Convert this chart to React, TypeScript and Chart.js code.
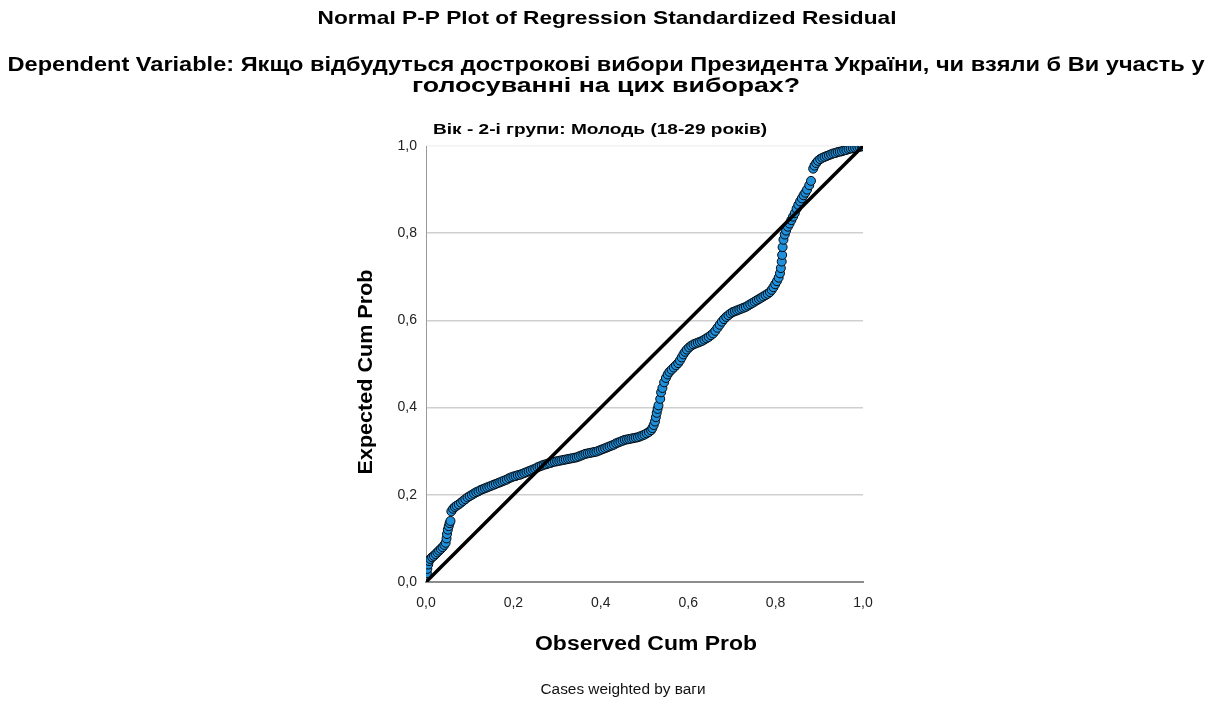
import React, { useEffect, useRef } from "react";
import { Chart, registerables } from "chart.js";

Chart.register(...registerables);

const mainTitle = "Normal P-P Plot of Regression Standardized Residual";
const depLine1 = "Dependent Variable: Якщо відбудуться дострокові вибори Президента України, чи взяли б Ви участь у";
const depLine2 = "голосуванні на цих виборах?";
const panelTitle = "Вік - 2-і групи: Молодь (18-29 років)";
const xTitle = "Observed Cum Prob";
const yTitle = "Expected Cum Prob";
const footnote = "Cases weighted by ваги";

const tickLabels = ["0,0", "0,2", "0,4", "0,6", "0,8", "1,0"];
const tickValues = [0, 0.2, 0.4, 0.6, 0.8, 1.0];

// Observed cumulative probability (x)
const observedCum = [
  0.002, 0.003, 0.005, 0.007, 0.010, 0.014, 0.018, 0.022, 0.026, 0.030,
  0.034, 0.038, 0.042, 0.045, 0.047, 0.048, 0.050, 0.052, 0.054, 0.056,
  0.058, 0.062, 0.066, 0.070, 0.075, 0.080, 0.085, 0.090, 0.095, 0.100,
  0.105, 0.110, 0.115, 0.120, 0.125, 0.130, 0.135, 0.140, 0.145, 0.150,
  0.155, 0.160, 0.165, 0.170, 0.175, 0.180, 0.185, 0.190, 0.195, 0.200,
  0.205, 0.210, 0.215, 0.220, 0.225, 0.230, 0.235, 0.240, 0.245, 0.250,
  0.255, 0.260, 0.265, 0.270, 0.275, 0.280, 0.285, 0.290, 0.295, 0.300,
  0.305, 0.310, 0.315, 0.320, 0.325, 0.330, 0.335, 0.340, 0.345, 0.350,
  0.355, 0.360, 0.365, 0.370, 0.375, 0.380, 0.385, 0.390, 0.395, 0.400,
  0.405, 0.410, 0.415, 0.420, 0.425, 0.430, 0.435, 0.440, 0.445, 0.450,
  0.455, 0.460, 0.465, 0.470, 0.475, 0.480, 0.485, 0.490, 0.495, 0.500,
  0.505, 0.510, 0.515, 0.518, 0.521, 0.524, 0.526, 0.528, 0.530, 0.532,
  0.536, 0.538, 0.541, 0.545, 0.549, 0.553, 0.557, 0.562, 0.567, 0.572,
  0.577, 0.581, 0.585, 0.589, 0.593, 0.597, 0.602, 0.607, 0.612, 0.617,
  0.622, 0.627, 0.632, 0.637, 0.642, 0.647, 0.652, 0.657, 0.662, 0.667,
  0.672, 0.677, 0.682, 0.687, 0.692, 0.697, 0.702, 0.707, 0.712, 0.717,
  0.722, 0.727, 0.732, 0.737, 0.742, 0.747, 0.752, 0.757, 0.762, 0.767,
  0.772, 0.777, 0.782, 0.787, 0.791, 0.795, 0.799, 0.803, 0.807, 0.810,
  0.812, 0.814, 0.815, 0.816, 0.818, 0.821, 0.824, 0.828, 0.832, 0.836,
  0.840, 0.844, 0.848, 0.852, 0.856, 0.860, 0.864, 0.868, 0.872, 0.877,
  0.881, 0.886, 0.889, 0.893, 0.897, 0.902, 0.907, 0.912, 0.917, 0.922,
  0.927, 0.932, 0.937, 0.942, 0.947, 0.952, 0.957, 0.962, 0.967, 0.972,
  0.977, 0.982, 0.987, 0.992, 0.997, 1.000,
];

// Expected cumulative probability (y)
const expectedCum = [
  0.020, 0.030, 0.040, 0.048, 0.053, 0.057, 0.060, 0.064, 0.068, 0.072,
  0.076, 0.080, 0.085, 0.090, 0.100, 0.110, 0.120, 0.128, 0.135, 0.140,
  0.162, 0.168, 0.172, 0.175, 0.178, 0.182, 0.186, 0.190, 0.194, 0.197,
  0.200, 0.203, 0.206, 0.208, 0.211, 0.213, 0.215, 0.217, 0.219, 0.221,
  0.223, 0.225, 0.227, 0.229, 0.231, 0.233, 0.235, 0.238, 0.240, 0.242,
  0.243, 0.245, 0.246, 0.248, 0.250, 0.252, 0.254, 0.256, 0.258, 0.260,
  0.263, 0.265, 0.267, 0.269, 0.270, 0.272, 0.273, 0.275, 0.276, 0.277,
  0.278, 0.279, 0.280, 0.281, 0.282, 0.283, 0.284, 0.285, 0.286, 0.288,
  0.290, 0.292, 0.294, 0.295, 0.296, 0.297, 0.298, 0.299, 0.301, 0.303,
  0.305, 0.307, 0.309, 0.311, 0.313, 0.315, 0.318, 0.320, 0.322, 0.324,
  0.326, 0.327, 0.328, 0.329, 0.330, 0.331, 0.332, 0.334, 0.336, 0.338,
  0.341, 0.344, 0.348, 0.353, 0.360, 0.368, 0.378, 0.388, 0.397, 0.405,
  0.420, 0.435, 0.445, 0.458, 0.468, 0.476, 0.482, 0.487, 0.492, 0.497,
  0.502, 0.508, 0.515, 0.522, 0.528, 0.533, 0.538, 0.542, 0.545, 0.547,
  0.549, 0.551, 0.553, 0.556, 0.559, 0.562, 0.566, 0.570, 0.576, 0.583,
  0.590, 0.597, 0.603, 0.608, 0.612, 0.616, 0.619, 0.621, 0.623, 0.625,
  0.627, 0.629, 0.631, 0.634, 0.637, 0.640, 0.643, 0.646, 0.649, 0.652,
  0.655, 0.658, 0.661, 0.665, 0.670, 0.676, 0.683, 0.690, 0.698, 0.708,
  0.720, 0.735, 0.750, 0.768, 0.785, 0.797, 0.806, 0.815, 0.822, 0.830,
  0.838, 0.846, 0.856, 0.865, 0.873, 0.880, 0.887, 0.893, 0.900, 0.910,
  0.920, 0.948, 0.955, 0.961, 0.966, 0.970, 0.973, 0.975, 0.977, 0.979,
  0.981, 0.983, 0.984, 0.986, 0.987, 0.988, 0.990, 0.991, 0.993, 0.994,
  0.995, 0.996, 0.997, 0.998, 0.999, 1.000,
];

const refLineX = [0, 1];
const refLineY = [0, 1];

const FONT = "'Liberation Sans', Arial, sans-serif";

function drawFitted(
  ctx: CanvasRenderingContext2D,
  text: string,
  cx: number,
  cy: number,
  targetW: number,
  font: string,
  color: string,
  rotate = false
) {
  ctx.save();
  ctx.font = font;
  ctx.fillStyle = color;
  ctx.textAlign = "center";
  ctx.textBaseline = "middle";
  const w = ctx.measureText(text).width;
  const sx = targetW / w;
  ctx.translate(cx, cy);
  if (rotate) ctx.rotate(-Math.PI / 2);
  ctx.scale(sx, 1);
  ctx.fillText(text, 0, 0);
  ctx.restore();
}

const textPlugin = {
  id: "spssText",
  afterDraw(chart: any) {
    const ctx = chart.ctx as CanvasRenderingContext2D;
    drawFitted(ctx, mainTitle, 607, 19, 579, `bold 19px ${FONT}`, "#000");
    drawFitted(ctx, depLine1, 606, 65, 1197, `bold 20px ${FONT}`, "#000");
    drawFitted(ctx, depLine2, 606, 86, 388, `bold 20px ${FONT}`, "#000");
    drawFitted(ctx, panelTitle, 600, 130, 334, `bold 15px ${FONT}`, "#000");
    drawFitted(ctx, xTitle, 646, 644, 222, `bold 20px ${FONT}`, "#000");
    drawFitted(ctx, yTitle, 366, 372, 205, `bold 20px ${FONT}`, "#000", true);
    drawFitted(ctx, footnote, 623, 690, 165, `14px ${FONT}`, "#111");
  },
};

export default function App() {
  const ref = useRef<HTMLCanvasElement | null>(null);

  useEffect(() => {
    if (!ref.current) return;
    const points = observedCum.map((x, i) => ({ x, y: expectedCum[i] }));
    const line = refLineX.map((x, i) => ({ x, y: refLineY[i] }));
    const chart = new Chart(ref.current, {
      type: "scatter",
      data: {
        datasets: [
          {
            type: "line",
            data: line,
            borderColor: "#000",
            borderWidth: 3.5,
            pointRadius: 0,
            fill: false,
          } as any,
          {
            type: "scatter",
            data: points,
            pointRadius: 4.5,
            pointBackgroundColor: "#1e90dc",
            pointBorderColor: "#05090d",
            pointBorderWidth: 1,
          } as any,
        ],
      },
      plugins: [textPlugin],
      options: {
        animation: false,
        responsive: false,
        maintainAspectRatio: false,
        layout: { padding: { left: 0, top: 146, right: 350, bottom: 0 } },
        plugins: {
          legend: { display: false },
          tooltip: { enabled: false },
          title: { display: false },
        },
        scales: {
          x: {
            type: "linear",
            min: 0,
            max: 1,
            afterFit: (s: any) => {
              s.height = 119;
            },
            afterBuildTicks: (s: any) => {
              s.ticks = tickValues.map((v) => ({ value: v }));
            },
            grid: { display: false, drawTicks: false },
            border: { display: true, color: "#8c8c8c", width: 2 },
            ticks: {
              padding: 13,
              color: "#222",
              font: { family: FONT, size: 14 },
              maxRotation: 0,
              autoSkip: false,
              callback: (_v: any, i: number) => tickLabels[i],
            },
          },
          y: {
            type: "linear",
            min: 0,
            max: 1,
            afterFit: (s: any) => {
              s.width = 426;
            },
            afterBuildTicks: (s: any) => {
              s.ticks = tickValues.map((v) => ({ value: v }));
            },
            grid: {
              drawTicks: false,
              color: (c: any) => (c.tick && c.tick.value === 1 ? "#f2f2f2" : "#cfcfcf"),
              lineWidth: 1.5,
            },
            border: { display: true, color: "#9a9a9a", width: 1 },
            ticks: {
              padding: 9,
              color: "#222",
              font: { family: FONT, size: 14 },
              autoSkip: false,
              callback: (_v: any, i: number) => tickLabels[i],
            },
          },
        },
      } as any,
    });
    return () => chart.destroy();
  }, []);

  return (
    <div style={{ position: "absolute", left: 0, top: 0, width: 1213, height: 701, background: "#fff" }}>
      <canvas ref={ref} width={1213} height={701} style={{ width: 1213, height: 701, display: "block" }} />
    </div>
  );
}
